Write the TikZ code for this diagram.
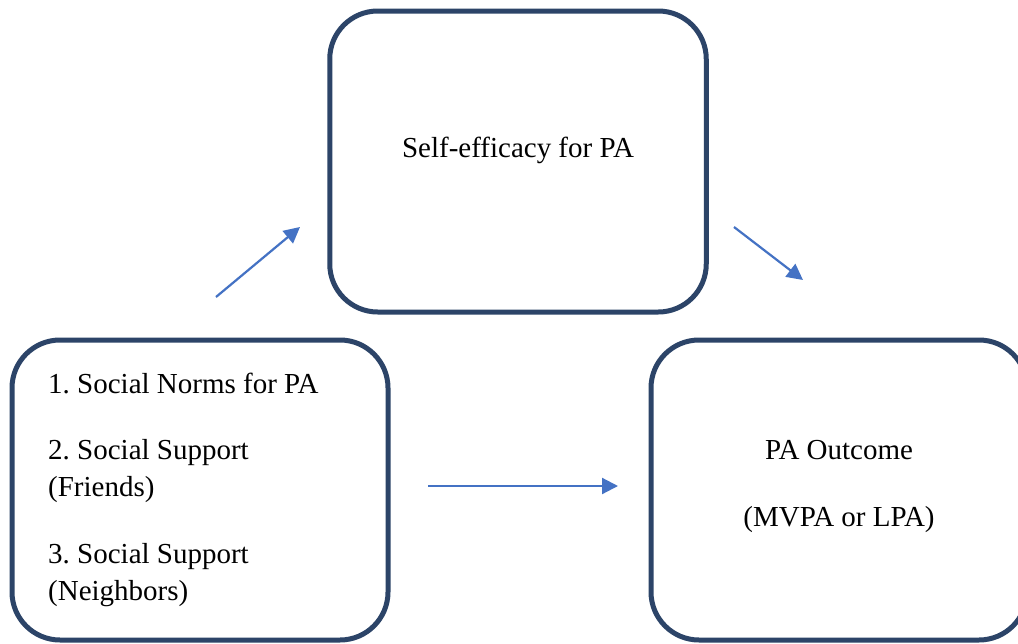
\documentclass[tikz,border=0pt]{standalone}
\usepackage{fontspec}
\setmainfont{Liberation Serif}
\usetikzlibrary{arrows.meta}
\definecolor{boxblue}{RGB}{44,68,104}
\definecolor{arrowblue}{RGB}{68,114,196}
\frenchspacing
\tikzset{
  card/.style={draw=boxblue, line width=5pt, rounded corners=48pt, fill=white},
  lbl/.style={inner sep=0pt, font=\fontsize{29}{34}\selectfont, text=black},
  link/.style={draw=arrowblue, line width=2.2pt, -{Triangle[length=16pt,width=16pt]}}
}
\begin{document}
\begin{tikzpicture}[x=1pt,y=-1pt]
\clip (0,0) rectangle (1018,643);
\fill[white] (0,0) rectangle (1018,643);
% boxes
\node[card, minimum width=376.5pt, minimum height=301pt] (self) at (518,161.5) {};
\node[card, minimum width=376pt, minimum height=300pt] (soc) at (200,490) {};
\node[card, minimum width=376pt, minimum height=300pt] (out) at (839,490) {};
% texts
\node[lbl, anchor=base] (tself) at (518,157) {Self-efficacy for PA};
\node[lbl, anchor=base west] (t1) at (48,393) {1. Social Norms for PA};
\node[lbl, anchor=base west] (t2) at (48,459) {2. Social Support};
\node[lbl, anchor=base west] (t2b) at (48,496) {(Friends)};
\node[lbl, anchor=base west] (t3) at (48,563) {3. Social Support};
\node[lbl, anchor=base west] (t3b) at (48,600) {(Neighbors)};
\node[lbl, anchor=base] (to1) at (839,459) {PA Outcome};
\node[lbl, anchor=base] (to2) at (839,526) {(MVPA or LPA)};
% arrow end points
\coordinate (a1s) at (216,297);
\coordinate (a1e) at (300,227);
\coordinate (a2s) at (734,227);
\coordinate (a2e) at (803,280);
\coordinate (a3s) at (428,486);
\coordinate (a3e) at (618,486);
\draw[link] (a1s) -- (a1e);
\draw[link] (a2s) -- (a2e);
\draw[link] (a3s) -- (a3e);
\end{tikzpicture}
\end{document}
